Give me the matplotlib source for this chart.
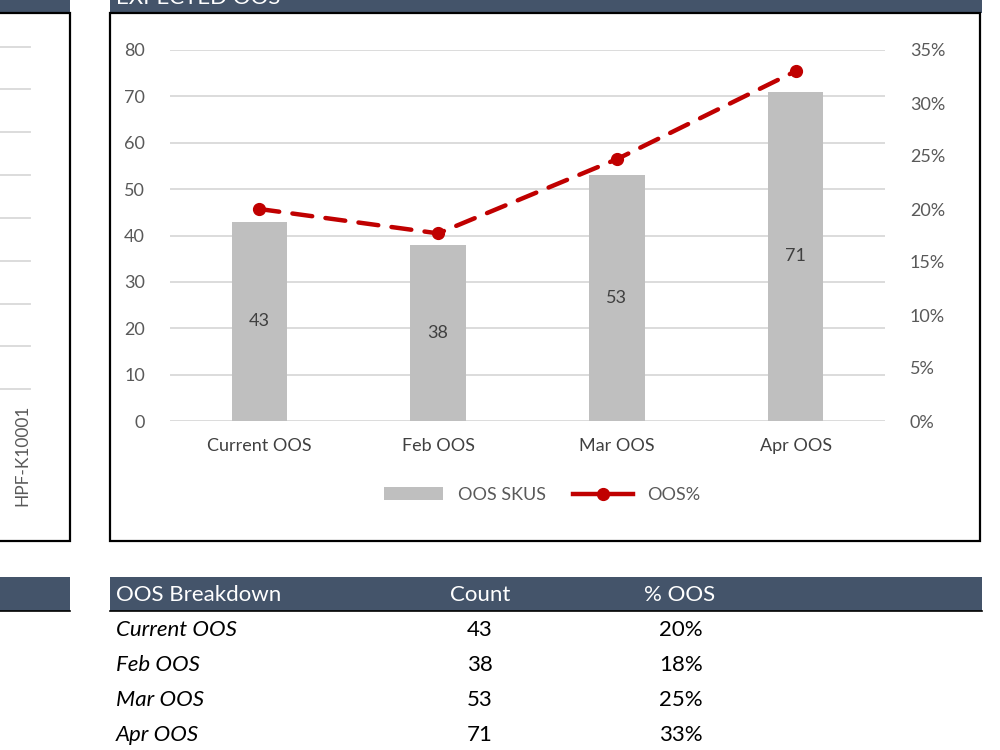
import matplotlib.pyplot as plt
from matplotlib.patches import Rectangle
from matplotlib.lines import Line2D
from matplotlib.ticker import FuncFormatter, MultipleLocator

plt.rcParams['font.family'] = ['Lato', 'DejaVu Sans']

# data
categories = ["Current OOS", "Feb OOS", "Mar OOS", "Apr OOS"]
oos_skus = [43, 38, 53, 71]
oos_pct = [0.200, 0.177, 0.247, 0.330]
table_pct = ["20%", "18%", "25%", "33%"]
left_label = "HPF-K10001"

W, H = 1000, 750
HEADER = "#44546A"
BAR = "#BFBFBF"
GRID = "#D9D9D9"
RED = "#C00000"
TXT = "#595959"

fig = plt.figure(figsize=(W / 100, H / 100), dpi=100)


def fx(x):
    return x / W


def fy(y):
    return 1 - y / H


def rect(x0, y0, x1, y1, **kw):
    fig.add_artist(Rectangle((fx(x0), fy(y1)), fx(x1 - x0), (y1 - y0) / H,
                             transform=fig.transFigure, **kw))


# panel headers and borders (title is cropped at the top edge, as in the screenshot)
rect(110, -5, 982, 13, facecolor=HEADER, edgecolor="none")
rect(-5, -5, 70, 13, facecolor=HEADER, edgecolor="none")
rect(110, 13, 980, 541, facecolor="none", edgecolor="black", linewidth=1.6)
rect(-10, 13, 70, 541, facecolor="none", edgecolor="black", linewidth=1.6)
fig.text(fx(116), fy(4), "EXPECTED OOS", color="white", fontsize=16,
         va="baseline", ha="left")

# left panel remnants
for gy in [47, 89, 132, 175, 218, 261, 304, 346, 389]:
    fig.add_artist(Line2D([0, fx(30)], [fy(gy), fy(gy)], color=GRID,
                          linewidth=1.3, transform=fig.transFigure))
fig.text(fx(22), fy(455), left_label, rotation=90, color=TXT, fontsize=12.5,
         ha="center", va="center")

# chart
ax = fig.add_axes([fx(170), fy(421), (885 - 170) / W, (421 - 50) / H])
x = list(range(len(categories)))
bars = ax.bar(x, oos_skus, width=0.31, color=BAR, label="OOS SKUS", zorder=2)
for xi, v in zip(x, oos_skus):
    ax.text(xi, v / 2, str(v), ha="center", va="center", fontsize=13,
            color="#404040", zorder=3)
ax.set_xlim(-0.5, 3.5)
ax.set_ylim(0, 80)
ax.yaxis.set_major_locator(MultipleLocator(10))
ax.grid(axis="y", color=GRID, linewidth=1.3, zorder=0)
ax.set_axisbelow(True)
for s in ax.spines.values():
    s.set_visible(False)
ax.tick_params(length=0, labelsize=13, labelcolor=TXT)
ax.tick_params(axis="y", pad=18)
ax.tick_params(axis="x", pad=12)
ax.set_xticks(x)
ax.set_xticklabels(categories, color="#404040")

ax2 = ax.twinx()
ax2.set_ylim(0, 0.35)
ax2.yaxis.set_major_locator(MultipleLocator(0.05))
ax2.yaxis.set_major_formatter(FuncFormatter(lambda v, p: f"{v * 100:.0f}%"))
for s in ax2.spines.values():
    s.set_visible(False)
ax2.tick_params(length=0, labelsize=13, labelcolor=TXT, pad=18)
ax2.plot(x, oos_pct, color=RED, linewidth=3.2, linestyle=(0, (4.5, 3)),
         dash_capstyle="round", marker="o", markersize=8.5, label="OOS%",
         zorder=4)

handles = [bars, Line2D([], [], color=RED, linewidth=3.2, marker="o",
                        markersize=8.5)]
fig.legend(handles, ["OOS SKUS", "OOS%"], loc="center",
           bbox_to_anchor=(fx(542), fy(495)), ncol=2, frameon=False,
           fontsize=13, handlelength=3.3, columnspacing=1.5,
           labelcolor=TXT)

# table
rect(110, 577, 982, 611, facecolor=HEADER, edgecolor="none")
rect(-5, 577, 70, 611, facecolor=HEADER, edgecolor="none")
fig.add_artist(Line2D([fx(110), fx(982)], [fy(611), fy(611)], color="black",
                      linewidth=1.2, transform=fig.transFigure))
fig.add_artist(Line2D([0, fx(70)], [fy(611), fy(611)], color="black",
                      linewidth=1.2, transform=fig.transFigure))
fig.text(fx(116), fy(595), "OOS Breakdown", color="white", fontsize=16,
         va="center", ha="left")
fig.text(fx(480), fy(595), "Count", color="white", fontsize=16,
         va="center", ha="center")
fig.text(fx(680), fy(595), "% OOS", color="white", fontsize=16,
         va="center", ha="center")
for i, (c, n, p) in enumerate(zip(categories, oos_skus, table_pct)):
    ry = 630 + 35 * i
    fig.text(fx(116), fy(ry), c, style="italic", fontsize=16, color="black",
             va="center", ha="left")
    fig.text(fx(480), fy(ry), str(n), fontsize=16, color="black",
             va="center", ha="center")
    fig.text(fx(681), fy(ry), p, fontsize=16, color="black",
             va="center", ha="center")

fig.savefig("out.png", dpi=100)
